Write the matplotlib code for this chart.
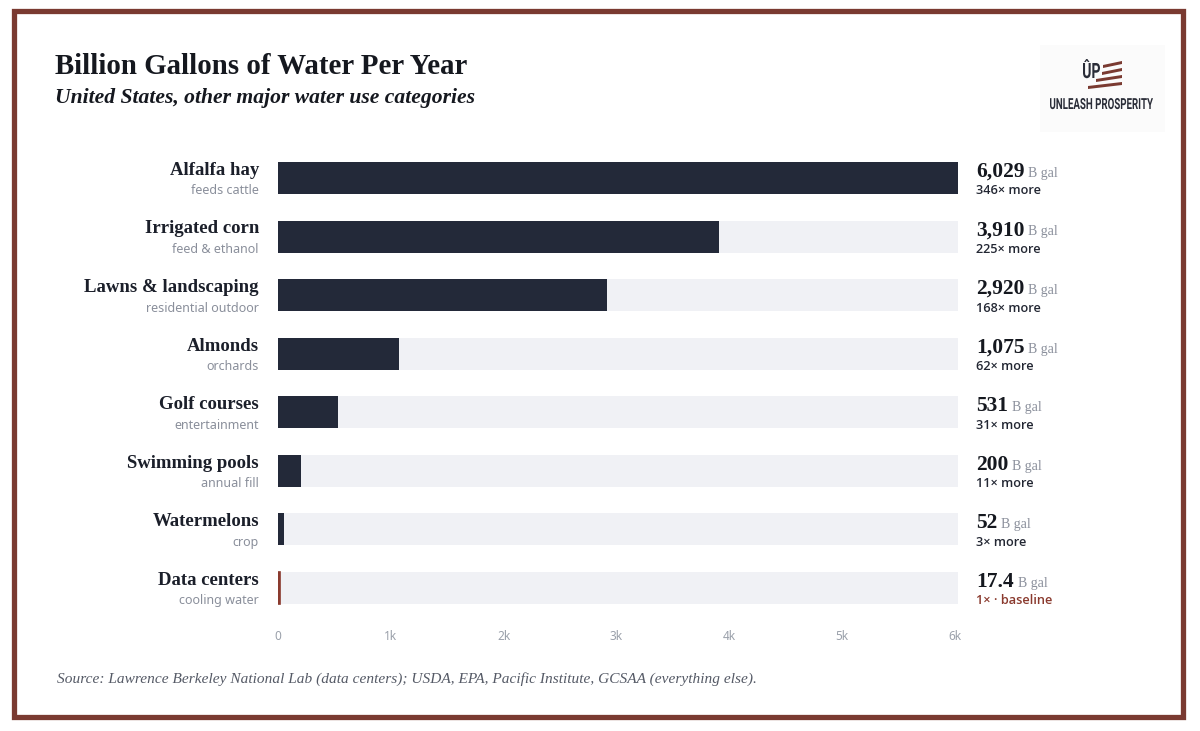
import matplotlib
matplotlib.use("Agg")
import matplotlib.pyplot as plt
from matplotlib import font_manager
from matplotlib.font_manager import FontProperties
from matplotlib.patches import Rectangle, Polygon, PathPatch
from matplotlib.textpath import TextPath
from matplotlib.transforms import blended_transform_factory, Affine2D, IdentityTransform

# data
categories = ["Alfalfa hay", "Irrigated corn", "Lawns & landscaping", "Almonds",
              "Golf courses", "Swimming pools", "Watermelons", "Data centers"]
subtitles = ["feeds cattle", "feed & ethanol", "residential outdoor", "orchards",
             "entertainment", "annual fill", "crop", "cooling water"]
values = [6029, 3910, 2920, 1075, 531, 200, 52, 17.4]
value_labels = ["6,029", "3,910", "2,920", "1,075", "531", "200", "52", "17.4"]
ratio_labels = ["346× more", "225× more", "168× more", "62× more", "31× more",
                "11× more", "3× more", "1× · baseline"]
tick_values = [0, 1000, 2000, 3000, 4000, 5000, 6000]
tick_labels = ["0", "1k", "2k", "3k", "4k", "5k", "6k"]

DARK = "#232939"
TRACK = "#f0f1f5"
RED = "#8a3a2e"
FRAME = "#7a3a31"
GRAY = "#8a8f9b"

SERIF = "Liberation Serif"
SANS = "Noto Sans"

# a sans family that really has a semibold/bold face
heavy = {}
for f in font_manager.fontManager.ttflist:
    w = f.weight if isinstance(f.weight, int) else 700 if f.weight == "bold" else 400
    if w >= 600:
        heavy.setdefault(f.name, []).append(w)
BOLD_SANS = next((n for n in ["Noto Sans", "Open Sans", "Lato", "Roboto"] if n in heavy), "DejaVu Sans")
BOLD_W = min(heavy.get(BOLD_SANS, [700]))

W, H = 1200, 731
fig = plt.figure(figsize=(W / 100, H / 100), dpi=100)
fig.patch.set_facecolor("white")


def fx(px):
    return px / W


def fy(py):
    return 1 - py / H


# brown frame
fig.patches.append(Rectangle((fx(13.5), fy(716.5)), fx(1183) - fx(13.5), fy(10.5) - fy(716.5),
                             transform=fig.transFigure, fill=False, edgecolor=FRAME, linewidth=3.8))

# axes: 0 at x=278, top bar centre y=178, step 58.57px
step = 58.57
ax_left, ax_right = 278, 958
ax_top = 178 - step / 2
ax_bot = ax_top + step * len(categories)
ax = fig.add_axes([fx(ax_left), fy(ax_bot), fx(ax_right) - fx(ax_left), fy(ax_top) - fy(ax_bot)])
xmax = max(values)
ax.set_xlim(0, xmax)
ax.set_ylim(len(categories) - 0.5, -0.5)

ypos = list(range(len(categories)))
bar_h = 32 / step
ax.barh(ypos, [xmax] * len(values), height=bar_h, color=TRACK, linewidth=0)
colors = [DARK] * (len(values) - 1) + [RED]
ax.barh(ypos, values, height=bar_h, color=colors, linewidth=0)
# data centers bar is tiny; make it visible as a thin line
ax.barh(ypos[-1:], [values[-1]], height=bar_h, color=RED, edgecolor=RED, linewidth=1.2)

for s in ax.spines.values():
    s.set_visible(False)
ax.set_yticks([])
ax.set_xticks(tick_values)
ax.set_xticklabels(tick_labels, fontfamily=SANS, fontsize=8.5, color="#9aa0aa")
ax.tick_params(axis="x", length=0, pad=9)

# left labels
lab_tr = blended_transform_factory(fig.transFigure, ax.transData)
for i, (c, s) in enumerate(zip(categories, subtitles)):
    ax.text(fx(259), i - 0.13, c, transform=lab_tr, ha="right", va="center",
            fontfamily=SERIF, fontsize=13.5, fontweight="bold", color="#1b1f2a")
    ax.text(fx(259), i + 0.22, s, transform=lab_tr, ha="right", va="center",
            fontfamily=SANS, fontsize=9, color=GRAY)

# right value labels
fig.canvas.draw()
renderer = fig.canvas.get_renderer()
for i, (v, r) in enumerate(zip(value_labels, ratio_labels)):
    t = ax.text(fx(976), i - 0.02, v, transform=lab_tr, ha="left", va="baseline",
                fontfamily=SERIF, fontsize=15.5, fontweight="bold", color="#15181f")
    x1 = t.get_window_extent(renderer).x1
    ax.text(fx(x1 + 4), i - 0.02, "B gal", transform=lab_tr, ha="left", va="baseline",
            fontfamily=SERIF, fontsize=10, color=GRAY)
    ax.text(fx(976), i + 0.22, r, transform=lab_tr, ha="left", va="center",
            fontfamily=BOLD_SANS, fontsize=9.2, fontweight=BOLD_W,
            color=RED if i == len(values) - 1 else "#232733")

# titles
fig.text(fx(55), fy(74), "Billion Gallons of Water Per Year", ha="left", va="baseline",
         fontfamily=SERIF, fontsize=20.8, fontweight="bold", color="#15181f")
fig.text(fx(55), fy(103), "United States, other major water use categories", ha="left",
         va="baseline", fontfamily=SERIF, fontsize=15.6, fontweight="bold", fontstyle="italic",
         color="#15181f")

# source
fig.text(fx(57), fy(683), "Source: Lawrence Berkeley National Lab (data centers); USDA, EPA, "
         "Pacific Institute, GCSAA (everything else).", ha="left", va="baseline",
         fontfamily=SERIF, fontsize=11.1, fontstyle="italic", color="#555a66")

# logo
fig.patches.append(Rectangle((fx(1040), fy(132)), fx(1165) - fx(1040), fy(45) - fy(132),
                             transform=fig.transFigure, facecolor="#fbfbfb", edgecolor="none"))


def squeezed_text(s, x0, baseline, width, height, color):
    # text drawn as a path, squeezed to a condensed look
    tp = TextPath((0, 0), s, size=20, prop=FontProperties(family="Roboto", weight="bold"))
    ext = tp.get_extents()
    tr = (Affine2D().translate(-ext.x0, 0)
          .scale(width / ext.width, height / ext.y1)
          .translate(x0, H - baseline))
    fig.add_artist(PathPatch(tr.transform_path(tp), transform=IdentityTransform(),
                             facecolor=color, edgecolor="none", zorder=5))


squeezed_text("UNLEASH PROSPERITY", 1050, 109, 103, 11, "#2a2d38")
squeezed_text("ÛP", 1083, 78, 17, 19, "#2a2d38")
for y0, xl in [(62, 1103), (69, 1102), (76, 1096), (83, 1088)]:
    poly = [(fx(xl), fy(y0 + 3)), (fx(1122), fy(y0 - 1)), (fx(1122), fy(y0 + 2)),
            (fx(xl), fy(y0 + 6))]
    fig.patches.append(Polygon(poly, closed=True, transform=fig.transFigure,
                               facecolor=FRAME, edgecolor="none"))

fig.savefig("out.png", dpi=100, facecolor="white")
